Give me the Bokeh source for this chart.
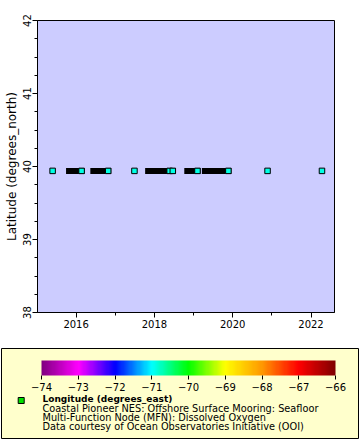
import numpy as np
from bokeh.plotting import figure
from bokeh.models import (FixedTicker, Range1d, LinearColorMapper, ColorBar,
                          ColumnDataSource)
from bokeh.core.properties import value
from bokeh.transform import linear_cmap
from bokeh.embed import file_html
from bokeh.resources import INLINE

# ---------------- data ----------------
latitude = 39.94
longitude = -70.88

# visible (un-overlapped) sample markers, decimal years
point_times = [2015.40, 2016.14, 2016.82, 2017.49, 2018.39, 2018.47,
               2019.10, 2019.89, 2020.89, 2022.28]
# dense runs of samples (appear as solid black bars)
run_start = [2015.82, 2016.44, 2017.84, 2018.84, 2019.29]
run_end = [2016.14, 2016.82, 2018.47, 2019.10, 2019.89]

x_ticks = [2016, 2018, 2020, 2022]
x_minor = [2015, 2016, 2017, 2018, 2019, 2020, 2021, 2022, 2023]
y_ticks = [38, 39, 40, 41, 42]
y_minor = [38.25, 38.5, 38.75, 39.25, 39.5, 39.75, 40.25, 40.5, 40.75,
           41.25, 41.5, 41.75]
cbar_low, cbar_high = -74, -66
cbar_ticks = [-74, -73, -72, -71, -70, -69, -68, -67, -66]
cbar_anchor_colors = ["#800080", "#ff00ff", "#0000ff", "#00ffff", "#00ff00",
                      "#ffff00", "#ff9900", "#ff0000", "#800000"]

legend_title = "Longitude (degrees_east)"
legend_lines = ["Coastal Pioneer NES: Offshore Surface Mooring: Seafloor",
                "Multi-Function Node (MFN): Dissolved Oxygen",
                "Data courtesy of Ocean Observatories Initiative (OOI)"]

# ---------------- palette ----------------
def hex2rgb(h):
    return [int(h[i:i + 2], 16) for i in (1, 3, 5)]

anch = np.array([hex2rgb(c) for c in cbar_anchor_colors], dtype=float)
pos = np.linspace(0, 1, len(anch))
t = np.linspace(0, 1, 256)
palette = []
for tv in t:
    rgb = [np.interp(tv, pos, anch[:, k]) for k in range(3)]
    palette.append("#%02x%02x%02x" % tuple(int(round(v)) for v in rgb))

FONT = "DejaVu Sans"

# ---------------- main plot ----------------
p = figure(width=360, height=340, output_backend="svg", toolbar_location=None,
           x_range=Range1d(2015.014, 2022.6), y_range=Range1d(38, 42),
           min_border_left=37, min_border_right=26, min_border_top=20,
           min_border_bottom=28)
p.background_fill_color = "#ccccff"
p.border_fill_color = "white"
p.grid.visible = False
p.outline_line_color = "black"
p.outline_line_width = 1

runs = ColumnDataSource(dict(x0=run_start, x1=run_end,
                             y=[latitude] * len(run_start)))
p.segment(x0="x0", y0="y", x1="x1", y1="y", source=runs,
          line_color="black", line_width=6, line_cap="square")

pts = ColumnDataSource(dict(x=point_times, y=[latitude] * len(point_times),
                            lon=[longitude] * len(point_times)))
p.scatter(x="x", y="y", source=pts, marker="square", size=5.5,
          fill_color=linear_cmap("lon", palette, cbar_low, cbar_high),
          line_color="black", line_width=1)

for ax in (p.xaxis[0], p.yaxis[0]):
    ax.axis_line_color = "black"
    ax.major_tick_line_color = "black"
    ax.minor_tick_line_color = "black"
    ax.major_tick_in = 0
    ax.major_tick_out = 5
    ax.minor_tick_in = 0
    ax.minor_tick_out = 3
    ax.major_label_text_font = FONT
    ax.major_label_text_font_size = "10px"
    ax.major_label_text_color = "black"
    ax.major_label_standoff = 2

p.xaxis.ticker = FixedTicker(ticks=x_ticks, minor_ticks=x_minor)
p.yaxis.ticker = FixedTicker(ticks=y_ticks, minor_ticks=y_minor)
p.yaxis.major_label_orientation = "vertical"
p.yaxis.axis_label = "Latitude (degrees_north)"
p.yaxis.axis_label_text_font = FONT
p.yaxis.axis_label_text_font_size = "12px"
p.yaxis.axis_label_text_font_style = "normal"
p.yaxis.axis_label_text_color = "black"
p.yaxis.axis_label_standoff = 1

# ---------------- legend panel ----------------
q = figure(width=360, height=100, output_backend="svg", toolbar_location=None,
           x_range=Range1d(0, 357), y_range=Range1d(0, 90),
           x_axis_location=None, y_axis_location=None,
           min_border_left=1, min_border_right=2, min_border_top=8,
           min_border_bottom=2)
q.grid.visible = False
q.background_fill_color = "#ffffcc"
q.border_fill_color = "white"
q.outline_line_color = "black"
q.outline_line_width = 1

mapper = LinearColorMapper(palette=palette, low=cbar_low, high=cbar_high)
cb = ColorBar(color_mapper=mapper, orientation="horizontal",
              location=(40, 45), width=294, height=15, padding=0,
              ticker=FixedTicker(ticks=cbar_ticks),
              major_tick_in=0, major_tick_out=4,
              major_tick_line_color="black",
              bar_line_color=None, label_standoff=3,
              major_label_text_font=FONT,
              major_label_text_font_size="10px",
              major_label_text_color="black",
              background_fill_alpha=0, border_line_alpha=0)
q.add_layout(cb)

q.scatter(x=[19.7], y=[38], marker="square", size=6,
          fill_color="#00e000", line_color="black", line_width=1)
q.text(x=[41], y=[39.2], text=[legend_title], text_font=value(FONT),
       text_font_size="9px", text_font_style="bold", text_baseline="middle",
       text_color="black")
q.text(x=[41] * 3, y=[29.8, 20.8, 11.8], text=legend_lines,
       text_font=value(FONT), text_font_size="9.75px", text_baseline="middle",
       text_color="black")

open("out.html", "w").write(file_html([p, q], INLINE))
